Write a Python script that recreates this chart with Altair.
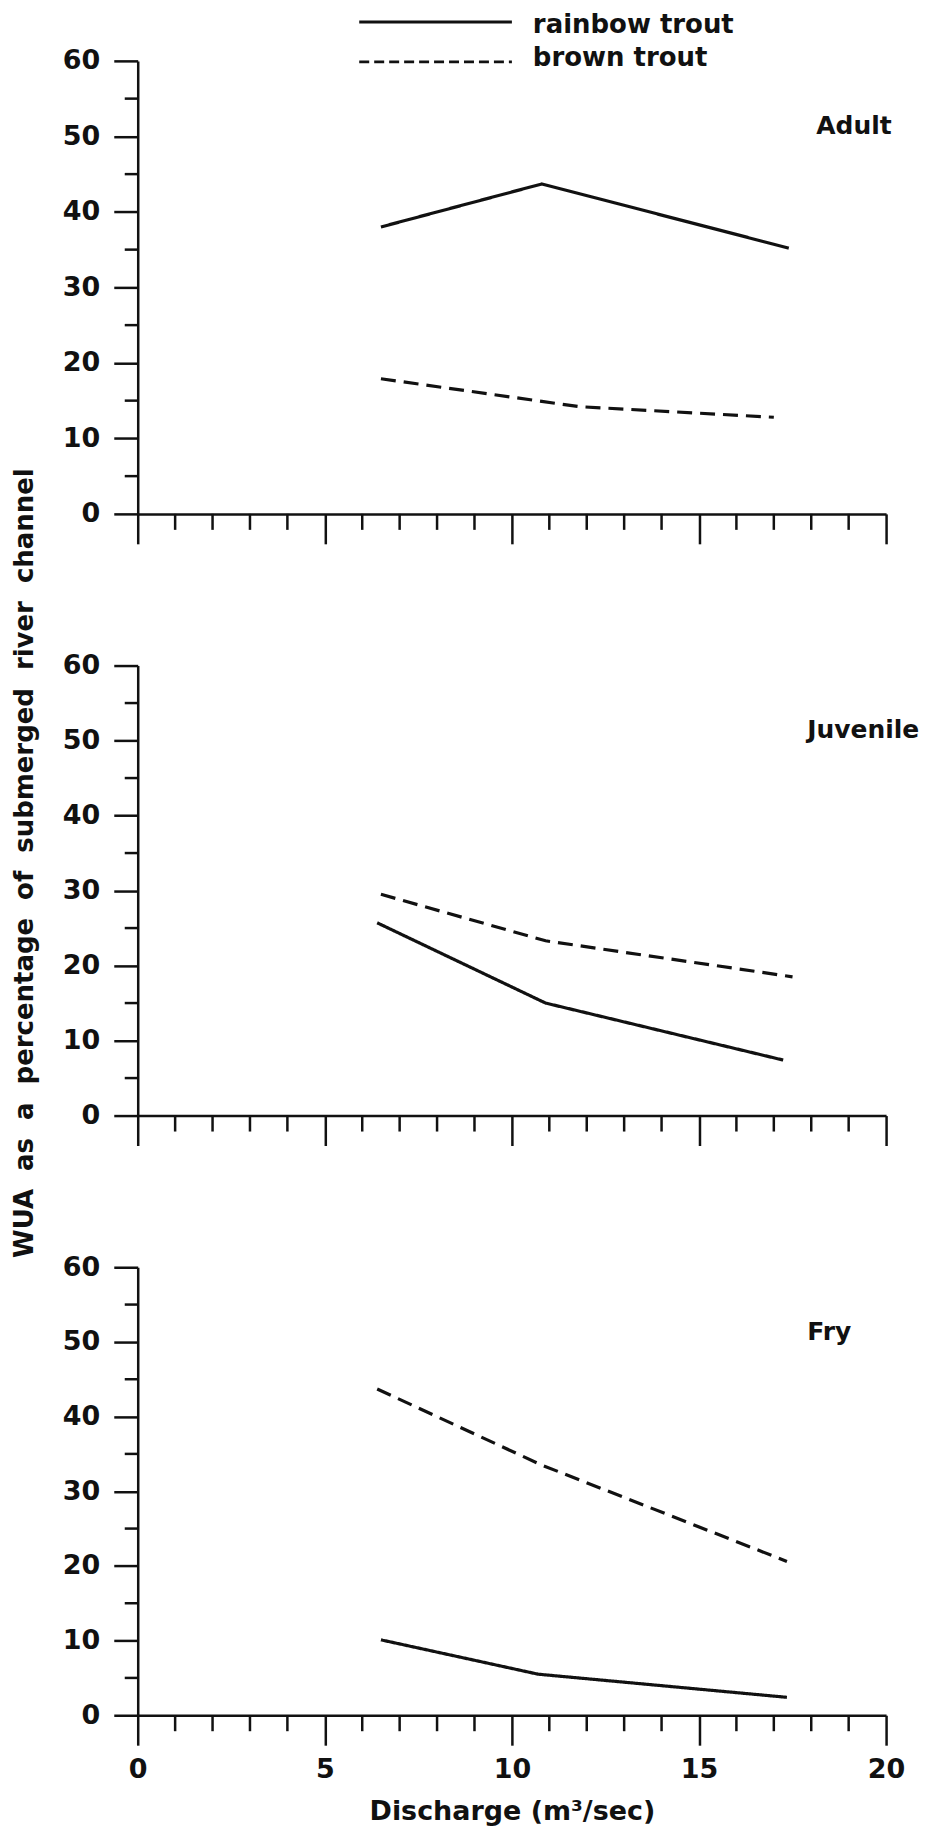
import altair as alt
import pandas as pd

FONT = "DejaVu Sans"
INK = "#111111"

series_names = ["rainbow trout", "brown trout"]
panel_names = ["Adult", "Juvenile", "Fry"]

adult_rainbow_x = [6.5, 10.8, 17.4]
adult_rainbow_y = [38.0, 43.7, 35.2]
adult_brown_x = [6.5, 10.8, 11.8, 17.0]
adult_brown_y = [17.9, 14.9, 14.2, 12.8]

juv_rainbow_x = [6.4, 10.9, 17.25]
juv_rainbow_y = [25.7, 15.0, 7.4]
juv_brown_x = [6.5, 10.9, 17.5]
juv_brown_y = [29.5, 23.3, 18.5]

fry_rainbow_x = [6.5, 10.7, 17.35]
fry_rainbow_y = [10.1, 5.5, 2.4]
fry_brown_x = [6.4, 10.8, 17.35]
fry_brown_y = [43.7, 33.5, 20.6]

x_major_ticks = [0, 5, 10, 15, 20]
x_minor_ticks = [1, 2, 3, 4, 6, 7, 8, 9, 11, 12, 13, 14, 16, 17, 18, 19]
y_major_ticks = [0, 10, 20, 30, 40, 50, 60]
y_minor_ticks = [5, 15, 25, 35, 45, 55]

x_title = "Discharge (m\u00b3/sec)"
y_title_words = ["WUA", "as", "a", "percentage", "of", "submerged", "river", "channel"]
y_title = " \u00a0".join(y_title_words)

W = 750
heights = [454, 451, 449]
label_x = [680, 671, 671]

xs = alt.Scale(domain=[0, 20], nice=False, zero=False)
ys = alt.Scale(domain=[0, 60], nice=False, zero=False)


def panel(name, rx, ry, bx, by, height, lx, bottom, extra=()):
    df = pd.DataFrame({
        "discharge": rx + bx,
        "wua": ry + by,
        "species": [series_names[0]] * len(rx) + [series_names[1]] * len(bx),
        "order": list(range(len(rx))) + list(range(len(bx))),
    })
    xkw = dict(values=x_major_ticks, tickSize=30, tickWidth=2.5, tickColor=INK,
               domainWidth=2.5, domainColor=INK, grid=False, labels=bottom,
               labelFont=FONT, labelFontWeight="bold", labelFontSize=27,
               labelColor=INK, labelPadding=11, labelFlush=False)
    if bottom:
        xkw.update(title=x_title, titleFont=FONT, titleFontWeight="bold",
                   titleFontSize=27, titleColor=INK, titlePadding=16)
    else:
        xkw.update(title=None)
    xaxis = alt.Axis(**xkw)
    yaxis = alt.Axis(values=y_major_ticks, tickSize=24, tickWidth=2.5, tickColor=INK,
                     domainWidth=2.5, domainColor=INK, grid=False, title=None,
                     labelFont=FONT, labelFontWeight="bold", labelFontSize=27,
                     labelColor=INK, labelPadding=14, labelFlush=False)
    lines = alt.Chart(df).mark_line(strokeWidth=3.2, color=INK).encode(
        x=alt.X("discharge:Q", scale=xs, axis=xaxis),
        y=alt.Y("wua:Q", scale=ys, axis=yaxis),
        strokeDash=alt.StrokeDash("species:N",
                                  scale=alt.Scale(domain=series_names, range=[[1, 0], [15, 8]]),
                                  legend=None),
        order="order:Q",
    )
    xminor = alt.Chart(pd.DataFrame({"discharge": x_minor_ticks})).mark_rule(
        strokeWidth=2.5, color=INK).encode(
        x=alt.X("discharge:Q", scale=xs, axis=xaxis),
        y=alt.value(height), y2=alt.value(height + 16))
    yminor = alt.Chart(pd.DataFrame({"wua": y_minor_ticks})).mark_rule(
        strokeWidth=2.5, color=INK).encode(
        y=alt.Y("wua:Q", scale=ys, axis=yaxis),
        x=alt.value(-13), x2=alt.value(0))
    label = alt.Chart(pd.DataFrame({"label": [name]})).mark_text(
        align="left", baseline="middle", font=FONT, fontWeight="bold",
        fontSize=25, color=INK).encode(
        x=alt.value(lx), y=alt.value(65), text="label:N")
    return alt.layer(lines, xminor, yminor, label, *extra).properties(width=W, height=height)


# legend (top panel)
leg_solid = alt.Chart(pd.DataFrame({"species": [series_names[0]]})).mark_rule(
    strokeWidth=3, color=INK).encode(x=alt.value(222), x2=alt.value(375), y=alt.value(-39))
leg_solid_t = alt.Chart(pd.DataFrame({"species": [series_names[0]]})).mark_text(
    align="left", baseline="middle", font=FONT, fontWeight="bold", fontSize=26,
    color=INK).encode(x=alt.value(396), y=alt.value(-36), text="species:N")
leg_dash = alt.Chart(pd.DataFrame({"species": [series_names[1]]})).mark_rule(
    strokeWidth=3, color=INK, strokeDash=[10, 5]).encode(
    x=alt.value(222), x2=alt.value(375), y=alt.value(1))
leg_dash_t = alt.Chart(pd.DataFrame({"species": [series_names[1]]})).mark_text(
    align="left", baseline="middle", font=FONT, fontWeight="bold", fontSize=26,
    color=INK).encode(x=alt.value(396), y=alt.value(-3), text="species:N")

ytitle = alt.Chart(pd.DataFrame({"t": [y_title]})).mark_text(
    angle=270, align="center", baseline="middle", font=FONT, fontWeight="bold",
    fontSize=26, color=INK).encode(x=alt.value(-113), y=alt.value(198), text="t:N")

p1 = panel(panel_names[0], adult_rainbow_x, adult_rainbow_y, adult_brown_x, adult_brown_y,
           heights[0], label_x[0], False, (leg_solid, leg_solid_t, leg_dash, leg_dash_t))
p2 = panel(panel_names[1], juv_rainbow_x, juv_rainbow_y, juv_brown_x, juv_brown_y,
           heights[1], label_x[1], False, (ytitle,))
p3 = panel(panel_names[2], fry_rainbow_x, fry_rainbow_y, fry_brown_x, fry_brown_y,
           heights[2], label_x[2], True)

chart = alt.vconcat(p1, p2, p3, spacing=152, bounds="flush").properties(
    padding={"left": 3, "top": 2, "right": 0, "bottom": 0},
    background="white",
).configure_view(strokeWidth=0)

chart.save("out.html", embed_options={"renderer": "svg", "actions": False})
